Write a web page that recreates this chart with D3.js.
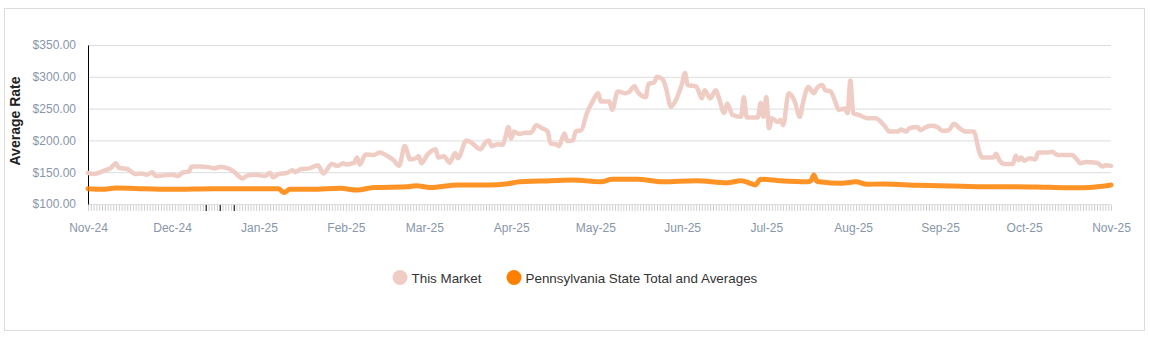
<!DOCTYPE html>
<html><head><meta charset="utf-8">
<script src="https://cdn.jsdelivr.net/npm/d3@7"></script>
<style>
html,body{margin:0;padding:0;background:#fff;}
svg{display:block;font-family:"Liberation Sans",Arial,sans-serif;}
</style></head>
<body><svg id="chart" width="1150" height="340"></svg>
<script>
const seriesNames = ["This Market", "Pennsylvania State Total and Averages"];
const seriesColors = ["#efcdc5", "#ff8000"];
const yTicks = [100, 150, 200, 250, 300, 350];
const monthTicks = ["2024-11-01","2024-12-01","2025-01-01","2025-02-01","2025-03-01","2025-04-01","2025-05-01","2025-06-01","2025-07-01","2025-08-01","2025-09-01","2025-10-01","2025-11-01"];
const highlightTicks = ["2024-12-13","2024-12-18","2024-12-23"];

const marketDates = ["2024-11-01","2024-11-03","2024-11-07","2024-11-09","2024-11-11","2024-11-12","2024-11-15","2024-11-18","2024-11-20","2024-11-22","2024-11-24","2024-11-25","2024-11-28",
"2024-12-01","2024-12-03","2024-12-05","2024-12-07","2024-12-08","2024-12-11","2024-12-14","2024-12-16","2024-12-18","2024-12-21","2024-12-23","2024-12-25","2024-12-26","2024-12-28","2024-12-31",
"2025-01-03","2025-01-05","2025-01-06","2025-01-08","2025-01-11","2025-01-13","2025-01-14","2025-01-16","2025-01-19","2025-01-22","2025-01-24","2025-01-27","2025-01-29","2025-01-31",
"2025-02-01","2025-02-04","2025-02-05","2025-02-06","2025-02-08","2025-02-11","2025-02-13","2025-02-16","2025-02-18","2025-02-20","2025-02-22","2025-02-24","2025-02-26","2025-02-27","2025-02-28",
"2025-03-02","2025-03-05","2025-03-06","2025-03-08","2025-03-10","2025-03-12","2025-03-13","2025-03-16","2025-03-18","2025-03-21","2025-03-23","2025-03-24","2025-03-25","2025-03-27","2025-03-29","2025-03-30","2025-03-31",
"2025-04-01","2025-04-02","2025-04-04","2025-04-06","2025-04-08","2025-04-10","2025-04-12","2025-04-14","2025-04-15","2025-04-17","2025-04-18","2025-04-20","2025-04-21","2025-04-23","2025-04-24","2025-04-26","2025-04-28","2025-04-30",
"2025-05-02","2025-05-03","2025-05-06","2025-05-07","2025-05-09","2025-05-12","2025-05-13","2025-05-15","2025-05-16","2025-05-19","2025-05-20","2025-05-22","2025-05-23","2025-05-25","2025-05-26","2025-05-28","2025-05-30",
"2025-06-01","2025-06-02","2025-06-03","2025-06-06","2025-06-08","2025-06-09","2025-06-11","2025-06-13","2025-06-14","2025-06-16","2025-06-17","2025-06-19","2025-06-22","2025-06-23","2025-06-24","2025-06-28","2025-06-29","2025-06-30",
"2025-07-01","2025-07-02","2025-07-03","2025-07-05","2025-07-06","2025-07-07","2025-07-09","2025-07-11","2025-07-13","2025-07-14","2025-07-16","2025-07-18","2025-07-19","2025-07-21","2025-07-22","2025-07-24","2025-07-25","2025-07-27","2025-07-29","2025-07-30","2025-07-31",
"2025-08-01","2025-08-03","2025-08-06","2025-08-09","2025-08-12","2025-08-14","2025-08-17","2025-08-18","2025-08-20","2025-08-21","2025-08-24","2025-08-25","2025-08-27","2025-08-29","2025-08-31",
"2025-09-02","2025-09-04","2025-09-06","2025-09-08","2025-09-10","2025-09-13","2025-09-15","2025-09-16","2025-09-20","2025-09-21","2025-09-22","2025-09-24","2025-09-27","2025-09-28","2025-09-29","2025-09-30",
"2025-10-01","2025-10-03","2025-10-05","2025-10-06","2025-10-09","2025-10-11","2025-10-13","2025-10-18","2025-10-20","2025-10-21","2025-10-23","2025-10-27","2025-10-29","2025-10-30","2025-11-01"];
const marketValues = [149,147,153,156,164,157,155,147,148,146,150,144,145,
146,144,150,151,159,159,158,156,158,156,151,143,140,145,146,
144,149,142,147,149,153,150,155,156,161,148,163,160,164,
162,165,173,162,178,177,181,175,169,160,191,170,172,175,164,
177,186,173,175,165,180,172,200,196,186,198,200,191,194,193,206,221,
203,214,210,212,212,224,219,214,195,194,191,211,199,200,214,216,243,261,
274,261,261,248,277,274,276,285,277,268,289,291,300,296,286,253,266,
290,306,287,285,266,279,266,279,268,243,258,240,237,268,236,236,259,237,
268,219,235,229,232,224,274,263,237,257,284,274,282,287,279,277,268,248,250,243,294,
243,240,235,235,224,214,214,217,214,219,221,216,221,223,221,
215,216,226,219,214,214,182,173,173,179,170,163,163,176,169,173,
168,172,170,181,181,182,177,177,169,164,166,165,159,161,160];

const stateDates = ["2024-11-01","2024-11-06","2024-11-11","2024-11-21","2024-12-01","2024-12-16","2024-12-31","2025-01-08","2025-01-10","2025-01-12","2025-01-20","2025-01-30",
"2025-02-05","2025-02-11","2025-02-23","2025-02-26","2025-03-03","2025-03-13","2025-03-24","2025-03-30","2025-04-04","2025-04-11","2025-04-23","2025-05-03","2025-05-07","2025-05-16","2025-05-25",
"2025-06-06","2025-06-17","2025-06-22","2025-06-25","2025-06-27","2025-06-29","2025-07-06","2025-07-16","2025-07-17","2025-07-18","2025-07-19","2025-07-20","2025-07-28","2025-08-02","2025-08-06","2025-08-12","2025-08-24",
"2025-09-05","2025-09-16","2025-09-28","2025-10-10","2025-10-22","2025-10-27","2025-11-01"];
const stateValues = [124,123,125,124,123,124,124,124,118,123,123,124.6,
122,126,127,128.8,126,130,130,131.4,135,136,137.7,135,138.8,138.8,135,
136.6,133.5,136.6,133,130,138.8,136.6,135,137,145.6,136,135,132.5,135,131,131.5,129.4,
128.3,127.2,127.2,126.2,125.6,127,130];

const parse = d3.utcParse("%Y-%m-%d");
const svg = d3.select("#chart");

svg.append("rect").attr("x",4.5).attr("y",8.5).attr("width",1140).attr("height",322)
  .attr("fill","#fff").attr("stroke","#dcdcdc");

const x = d3.scaleUtc().domain([parse("2024-11-01"), parse("2025-11-01")]).range([88,1111]);
const y = d3.scaleLinear().domain([100,350]).range([204,45]);

// gridlines
svg.append("g").attr("transform","translate(88,0)")
  .call(d3.axisLeft(y).tickValues(yTicks).tickSize(-(1111-88)).tickFormat(""))
  .call(g=>g.select(".domain").remove())
  .call(g=>g.selectAll("line").attr("stroke","#dcdcdc"));

// y axis labels
svg.append("g").attr("transform","translate(88,0)")
  .call(d3.axisLeft(y).tickValues(yTicks).tickSize(0).tickPadding(12).tickFormat(d=>"$"+d.toFixed(2)))
  .call(g=>g.select(".domain").attr("stroke","#000"))
  .call(g=>g.selectAll("text").attr("fill","#8796aa").attr("font-size",12).attr("font-family","Liberation Sans, Arial, sans-serif"));

// minor daily ticks
const days = d3.utcDay.range(parse("2024-11-01"), d3.utcDay.offset(parse("2025-11-01"),1));
svg.append("g").attr("transform","translate(0,205)")
  .call(d3.axisBottom(x).tickValues(days).tickSize(6).tickFormat(""))
  .call(g=>g.select(".domain").remove())
  .call(g=>g.selectAll("line").attr("stroke","#d0d0d0"));
svg.append("g").attr("transform","translate(0,205)")
  .call(d3.axisBottom(x).tickValues(highlightTicks.map(parse)).tickSize(6).tickFormat(""))
  .call(g=>g.select(".domain").remove())
  .call(g=>g.selectAll("line").attr("stroke","#000"));

// month labels
svg.append("g").attr("transform","translate(0,205)")
  .call(d3.axisBottom(x).tickValues(monthTicks.map(parse)).tickSize(0).tickPadding(18).tickFormat(d3.utcFormat("%b-%y")))
  .call(g=>g.select(".domain").remove())
  .call(g=>g.selectAll("text").attr("fill","#8796aa").attr("font-size",12).attr("font-family","Liberation Sans, Arial, sans-serif"));

// y title
svg.append("text").attr("transform","translate(20,121) rotate(-90)")
  .attr("text-anchor","middle").attr("font-size",14).attr("font-weight","bold").attr("fill","#222")
  .text("Average Rate");

const line = d3.line().x(d=>x(d[0])).y(d=>y(d[1])).curve(d3.curveMonotoneX);
const marketData = marketDates.map((d,i)=>[parse(d), marketValues[i]]);
const stateData = stateDates.map((d,i)=>[parse(d), stateValues[i]]);

svg.append("path").datum(marketData).attr("d",line).attr("fill","none")
  .attr("stroke",seriesColors[0]).attr("stroke-width",4.5).attr("stroke-linejoin","round").attr("stroke-linecap","round");
svg.append("path").datum(stateData).attr("d",line).attr("fill","none")
  .attr("stroke",seriesColors[1]).attr("stroke-opacity",0.85).attr("stroke-width",5).attr("stroke-linejoin","round").attr("stroke-linecap","round");

// legend
const legendX = [400, 514];
const lg = svg.append("g");
seriesNames.forEach((n,i)=>{
  lg.append("circle").attr("cx",legendX[i]).attr("cy",277.5).attr("r",7.5).attr("fill",seriesColors[i]);
  lg.append("text").attr("x",legendX[i]+11.5).attr("y",282.5).attr("font-size",13.4).attr("fill","#333").text(n);
});
</script></body></html>
